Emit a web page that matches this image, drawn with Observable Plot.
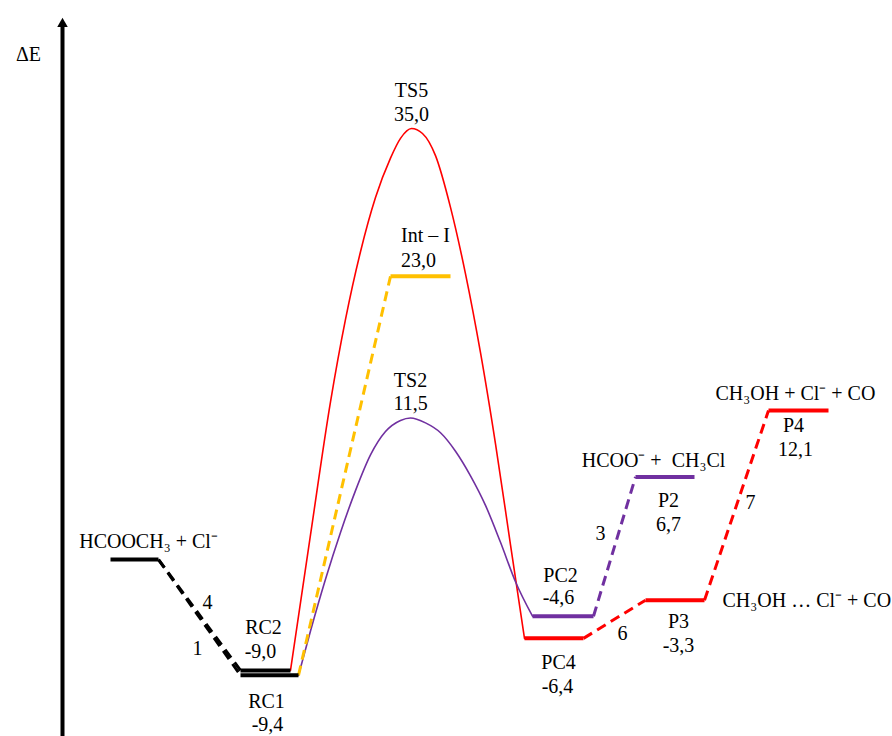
<!DOCTYPE html>
<html>
<head>
<meta charset="utf-8">
<script src="https://cdn.jsdelivr.net/npm/d3@7"></script>
<script src="https://cdn.jsdelivr.net/npm/@observablehq/plot@0.6"></script>
<style>
  html, body { margin: 0; padding: 0; background: #fff; }
  #chart svg { display: block; }
  #chart svg text { font-family: "Liberation Serif", "Times New Roman", serif !important; }
</style>
</head>
<body>
<div id="chart"></div>
<script>
// Reaction coordinate (arbitrary units) and energies (kcal/mol)
const levelNames  = ["R", "RC2", "RC1", "Int-I", "PC2", "PC4", "P2", "P3", "P4"];
const levelStart  = [11.0, 24.0, 24.0, 39.0, 53.2, 52.4, 63.5, 64.5, 76.8];
const levelEnd    = [15.8, 29.0, 29.8, 45.0, 59.3, 58.3, 69.4, 70.4, 82.8];
const levelEnergy = [0.0, -9.0, -9.4, 23.0, -4.6, -6.4, 6.7, -3.3, 12.1];
const levelColor  = ["#000000", "#000000", "#000000", "#FFC000", "#7030A0", "#FF0000", "#7030A0", "#FF0000", "#FF0000"];

// dashed connectors: [from level, to level, color]
const connFrom  = ["R", "R", "RC1", "PC2", "PC4", "P3"];
const connTo    = ["RC2", "RC1", "Int-I", "P2", "P3", "P4"];
const connColor = ["#000000", "#000000", "#FFC000", "#7030A0", "#FF0000", "#FF0000"];

// TS5 path (RC2 -> TS5 -> PC4)
const ts5X = [29.0, 31.0, 33.0, 34.5, 36.0, 37.5, 39.0, 40.0, 41.1, 42.2, 43.5, 45.0, 46.5, 48.0, 49.5, 51.0, 52.4];
const ts5E = [-9.0, 2.0, 12.8, 19.5, 25.0, 29.4, 32.6, 34.2, 35.0, 34.6, 32.8, 28.6, 23.2, 16.8, 9.4, 1.2, -6.4];

// TS2 path (RC1 -> TS2 -> PC2)
const ts2X = [29.8, 31.0, 32.5, 34.0, 35.5, 37.0, 38.5, 40.0, 41.0, 42.5, 44.0, 45.5, 47.0, 48.5, 50.0, 51.5, 53.2];
const ts2E = [-9.4, -5.8, -1.6, 2.2, 5.6, 8.5, 10.4, 11.3, 11.5, 11.1, 10.3, 8.8, 6.8, 4.4, 1.4, -1.8, -4.6];

// labels
const labelText = ["ΔE", "HCOOCH₃ + Cl⁻", "4", "1", "RC2", "-9,0", "RC1", "-9,4",
  "TS5", "35,0", "Int – I", "23,0", "TS2", "11,5", "PC2", "-4,6", "PC4", "-6,4",
  "6", "3", "HCOO⁻ +  CH₃Cl", "P2", "6,7", "P3", "-3,3", "CH₃OH … Cl⁻ + CO",
  "7", "CH₃OH + Cl⁻ + CO", "P4", "12,1"];
const labelX = [2.8, 14.8, 20.7, 19.7, 26.3, 26.0, 26.6, 26.7,
  41.1, 41.1, 42.5, 41.8, 41.0, 41.0, 56.0, 55.8, 55.8, 55.7,
  62.2, 60.0, 65.3, 66.8, 66.8, 67.8, 67.8, 72.2,
  75.0, 71.5, 79.3, 79.5];
const labelE = [41.0, 1.45, -3.5, -7.2, -5.5, -7.5, -11.5, -13.4,
  38.1, 36.1, 26.3, 24.3, 14.5, 12.7, -1.3, -3.1, -8.4, -10.3,
  -6.0, 2.1, 8.0, 4.8, 2.8, -5.0, -7.0, -3.3,
  4.6, 13.5, 10.9, 8.9];
const labelAnchor = ["middle", "middle", "middle", "middle", "middle", "middle", "middle", "middle",
  "middle", "middle", "middle", "middle", "middle", "middle", "middle", "middle", "middle", "middle",
  "middle", "middle", "middle", "middle", "middle", "middle", "middle", "start",
  "middle", "start", "middle", "middle"];

// axis arrow
const axisX = 6.2;
const axisBottom = -14.5;
const axisTop = 43.5;

// build tables
const levels = levelNames.map((n, i) => ({name: n, x1: levelStart[i], x2: levelEnd[i], E: levelEnergy[i], color: levelColor[i]}));
const byName = Object.fromEntries(levels.map(d => [d.name, d]));
const connectors = connFrom.map((f, i) => ({
  x1: byName[f].x2, y1: byName[f].E,
  x2: byName[connTo[i]].x1, y2: byName[connTo[i]].E,
  color: connColor[i]
}));
const ts5 = ts5X.map((x, i) => ({x, E: ts5E[i]}));
const ts2 = ts2X.map((x, i) => ({x, E: ts2E[i]}));
const labels = labelText.map((t, i) => ({text: t, x: labelX[i], E: labelE[i], anchor: labelAnchor[i]}));

const font = "Liberation Serif";

const chart = Plot.plot({
  width: 892,
  height: 736,
  margin: 0,
  x: {domain: [0, 89.2], axis: null},
  y: {domain: [-14.37, 45.40], axis: null},
  style: {background: "#fff", fontFamily: font, overflow: "visible"},
  marks: [
    Plot.ruleX([axisX], {y1: axisBottom, y2: axisTop, stroke: "#000", strokeWidth: 4}),
    Plot.dot([{x: axisX, E: 43.5}], {x: "x", y: "E", symbol: "triangle2", r: 5, fill: "#000", stroke: "none"}),
    Plot.line(ts5, {x: "x", y: "E", curve: "monotone-x", stroke: "#FF0000", strokeWidth: 1.6}),
    Plot.line(ts2, {x: "x", y: "E", curve: "monotone-x", stroke: "#7030A0", strokeWidth: 1.6}),
    Plot.link(connectors, {x1: "x1", y1: "y1", x2: "x2", y2: "y2", stroke: "color", strokeWidth: 3, strokeDasharray: "10,6"}),
    Plot.link(levels, {x1: "x1", y1: "E", x2: "x2", y2: "E", stroke: "color", strokeWidth: 4}),
    Plot.text(labels.filter(d => d.anchor === "middle"), {x: "x", y: "E", text: "text", fontSize: 20, fill: "#000", textAnchor: "middle", fontFamily: font}),
    Plot.text(labels.filter(d => d.anchor === "start"), {x: "x", y: "E", text: "text", fontSize: 20, fill: "#000", textAnchor: "start", fontFamily: font})
  ]
});
document.getElementById("chart").appendChild(chart);
</script>
</body>
</html>
